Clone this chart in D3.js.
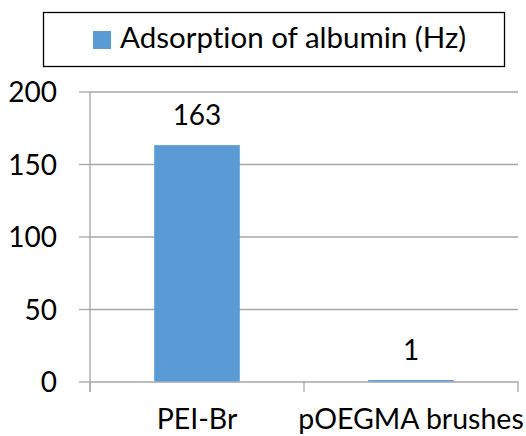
<!DOCTYPE html>
<html>
<head>
<meta charset="utf-8">
<script src="https://cdn.jsdelivr.net/npm/d3@7"></script>
<style>
  html, body { margin: 0; padding: 0; background: #fff; }
  svg { display: block; }
  text { font-family: Lato, "Liberation Sans", sans-serif; fill: #000;
         font-variant-ligatures: none; font-feature-settings: "liga" 0, "clig" 0; }
</style>
</head>
<body>
<script>
// Albumin adsorption measured on two surfaces
const categories = ["PEI-Br", "pOEGMA brushes"];
const values = [163, 1];
const seriesName = "Adsorption of albumin (Hz)";
const yTicks = [0, 50, 100, 150, 200];

const W = 526, H = 436;
const plot = { left: 90, right: 518, top: 91.5, bottom: 381.5 };
const gridColor = "#a6a6a6";
const barColor = "#5b9bd5";

const svg = d3.select("body").append("svg")
  .attr("width", W).attr("height", H);

const x = d3.scaleBand()
  .domain(categories)
  .range([plot.left, plot.right])
  .paddingInner(0.6)
  .paddingOuter(0.3);

const y = d3.scaleLinear()
  .domain([0, 200])
  .range([plot.bottom, plot.top]);

// Horizontal gridlines with outward tick marks and value labels
const yAxis = d3.axisLeft(y)
  .tickValues(yTicks)
  .tickSize(-(plot.right - plot.left))
  .tickSizeOuter(0)
  .tickPadding(0);

const gy = svg.append("g")
  .attr("transform", `translate(${plot.left},0)`)
  .call(yAxis);
gy.select(".domain").remove();
gy.selectAll(".tick line").attr("stroke", gridColor).attr("stroke-width", 1.3);
gy.selectAll(".tick")
  .append("line")
  .attr("x1", -11).attr("x2", 0)
  .attr("stroke", gridColor).attr("stroke-width", 1.3);
gy.selectAll(".tick text")
  .attr("x", -33)
  .attr("dy", "0.36em")
  .style("font-size", "28px")
  .style("font-family", "Lato, 'Liberation Sans', sans-serif")
  .attr("fill", "#000");

// Vertical axis line, running slightly below zero
svg.append("line")
  .attr("x1", plot.left).attr("x2", plot.left)
  .attr("y1", y(200)).attr("y2", plot.bottom + 10.5)
  .attr("stroke", gridColor).attr("stroke-width", 1.3);

// Category axis with tick marks at band boundaries
const xAxis = d3.axisBottom(x).tickSize(0).tickPadding(0);
const gx = svg.append("g")
  .attr("transform", `translate(0,${plot.bottom})`)
  .call(xAxis);
gx.select(".domain").remove();
gx.selectAll(".tick text")
  .attr("y", 47.5)
  .attr("dy", 0)
  .style("font-size", "28.5px")
  .style("font-family", "Lato, 'Liberation Sans', sans-serif")
  .attr("fill", "#000");

const boundaries = categories.map(c => x(c) - x.step() * x.paddingInner() / 2)
  .concat([plot.right]);
boundaries[0] = plot.left;
svg.append("g").selectAll("line")
  .data(boundaries)
  .join("line")
  .attr("x1", d => d).attr("x2", d => d)
  .attr("y1", plot.bottom).attr("y2", plot.bottom + 10.5)
  .attr("stroke", gridColor).attr("stroke-width", 1.3);

// Bars
svg.append("g").selectAll("rect")
  .data(categories.map((c, i) => ({ c, v: values[i] })))
  .join("rect")
  .attr("x", d => x(d.c))
  .attr("width", x.bandwidth())
  .attr("y", d => y(d.v))
  .attr("height", d => y(0) - y(d.v))
  .attr("fill", barColor);

// Value labels above bars
svg.append("g").selectAll("text")
  .data(categories.map((c, i) => ({ c, v: values[i] })))
  .join("text")
  .attr("x", d => x(d.c) + x.bandwidth() / 2)
  .attr("y", d => y(d.v) - 20)
  .attr("text-anchor", "middle")
  .style("font-size", "28px")
  .text(d => d.v);

// Legend
const lg = svg.append("g");
lg.append("rect")
  .attr("x", 43.5).attr("y", 12.5)
  .attr("width", 461).attr("height", 54)
  .attr("fill", "#fff").attr("stroke", "#000").attr("stroke-width", 1.3);
lg.append("rect")
  .attr("x", 93).attr("y", 31)
  .attr("width", 18).attr("height", 18)
  .attr("fill", barColor);
lg.append("text")
  .attr("x", 120).attr("y", 47.5)
  .style("font-size", "29.5px")
  .text(seriesName);
</script>
</body>
</html>
